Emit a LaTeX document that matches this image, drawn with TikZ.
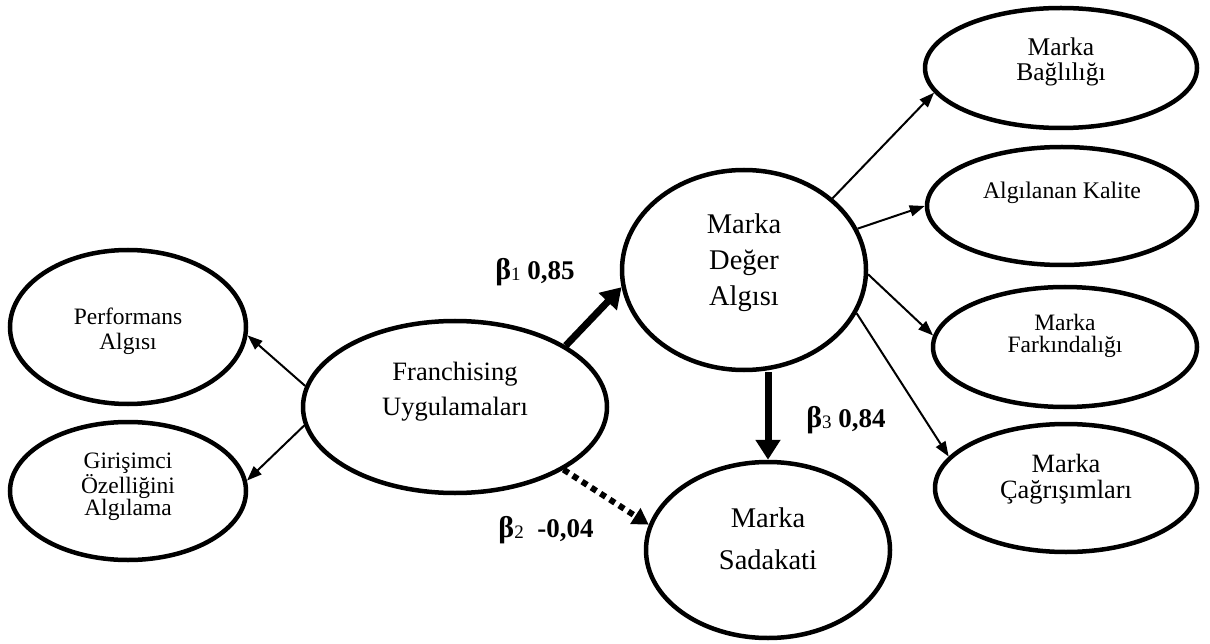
\documentclass[tikz,border=0pt]{standalone}
\usepackage{fontspec}
\setmainfont{Liberation Serif}
\usetikzlibrary{shapes.geometric,arrows.meta}

% small index after a coefficient symbol
\newcommand\coefidx[1]{{\mdseries\fontsize{19}{19}\selectfont\raisebox{-1.5pt}{#1}}}
\newcommand\coefsym{{\fontsize{30}{30}\selectfont β}}

\begin{document}
\begin{tikzpicture}[x=1pt,y=-1pt,
  oval/.style={draw, ellipse, line width=4.5pt, inner sep=0pt},
  txt/.style={align=center, inner sep=0pt},
  thinarrow/.style={line width=2pt, -{Triangle[length=15pt,width=11pt]}},
  heavyarrow/.style={line width=7pt, -{Triangle[length=20pt,width=24pt]}},
  dotarrow/.style={line width=6pt, dash pattern=on 6pt off 5pt, -{Triangle[length=16pt,width=18pt]}},
  coef/.style={font=\fontsize{27}{30}\selectfont\bfseries, inner sep=0pt},
]
\useasboundingbox (0,0) rectangle (1210,644);

% constructs
\node[oval, minimum width=236pt, minimum height=154pt] (perf) at (128,327) {};
\node[oval, minimum width=236pt, minimum height=138pt] (gir)  at (128,491) {};
\node[oval, minimum width=304pt, minimum height=172pt] (fr)   at (455,407) {};
\node[oval, minimum width=244pt, minimum height=200pt] (deg)  at (744,270) {};
\node[oval, minimum width=244pt, minimum height=176pt] (sad)  at (768,550) {};
\node[oval, minimum width=272pt, minimum height=120pt] (bag)  at (1061,68) {};
\node[oval, minimum width=270pt, minimum height=118pt] (kal)  at (1062,206) {};
\node[oval, minimum width=264pt, minimum height=120pt] (fark) at (1065,347) {};
\node[oval, minimum width=262pt, minimum height=128pt] (cag)  at (1066,488) {};

% construct names
\node[txt, font=\fontsize{23.5}{25}\selectfont, yshift=-4pt] (perf-t) at (perf) {Performans\\Algısı};
\node[txt, font=\fontsize{23.5}{22}\selectfont, yshift=4pt] (gir-t) at (gir) {Girişimci\\Özelliğini\\Algılama};
\node[txt, font=\fontsize{26.5}{35}\selectfont, yshift=15pt] (fr-t) at (fr) {Franchising\\Uygulamaları};
\node[txt, font=\fontsize{28.5}{36}\selectfont, yshift=7pt] (deg-t) at (deg) {Marka\\Değer\\Algısı};
\node[txt, font=\fontsize{28.5}{42}\selectfont, yshift=11pt] (sad-t) at (sad) {Marka\\Sadakati};
\node[txt, font=\fontsize{25.5}{25}\selectfont, yshift=6pt] (bag-t) at (bag) {Marka\\Bağlılığı};
\node[txt, font=\fontsize{23.8}{26}\selectfont, yshift=13pt] (kal-t) at (kal) {Algılanan Kalite};
\node[txt, font=\fontsize{23.5}{22.5}\selectfont, yshift=11pt] (fark-t) at (fark) {Marka\\Farkındalığı};
\node[txt, font=\fontsize{26.4}{26}\selectfont, yshift=9pt] (cag-t) at (cag) {Marka\\Çağrışımları};

% paths
\draw[thinarrow] (fr.172) -- (perf.-4);
\draw[thinarrow] (fr.187) -- (gir.5);
\draw[heavyarrow] (fr.29) -- (deg.188);
\draw[dotarrow] (fr.-30) -- (sad.168);
\draw[heavyarrow] (sad.north |- deg.south) -- (sad.north);
\draw[thinarrow] (deg.39) -- (bag.191);
\draw[thinarrow] (deg.20) -- (kal.180);
\draw[thinarrow] (deg.-2) -- (fark.175);
\draw[thinarrow] (deg.-21) -- (cag.165);

% path coefficients
\node[coef] (b1) at (535,272) {\coefsym\coefidx{1} 0,85};
\node[coef] (b2) at (546,530) {\coefsym\coefidx{2}\ \ -0,04};
\node[coef] (b3) at (846,420) {\coefsym\coefidx{3} 0,84};
\end{tikzpicture}
\end{document}
